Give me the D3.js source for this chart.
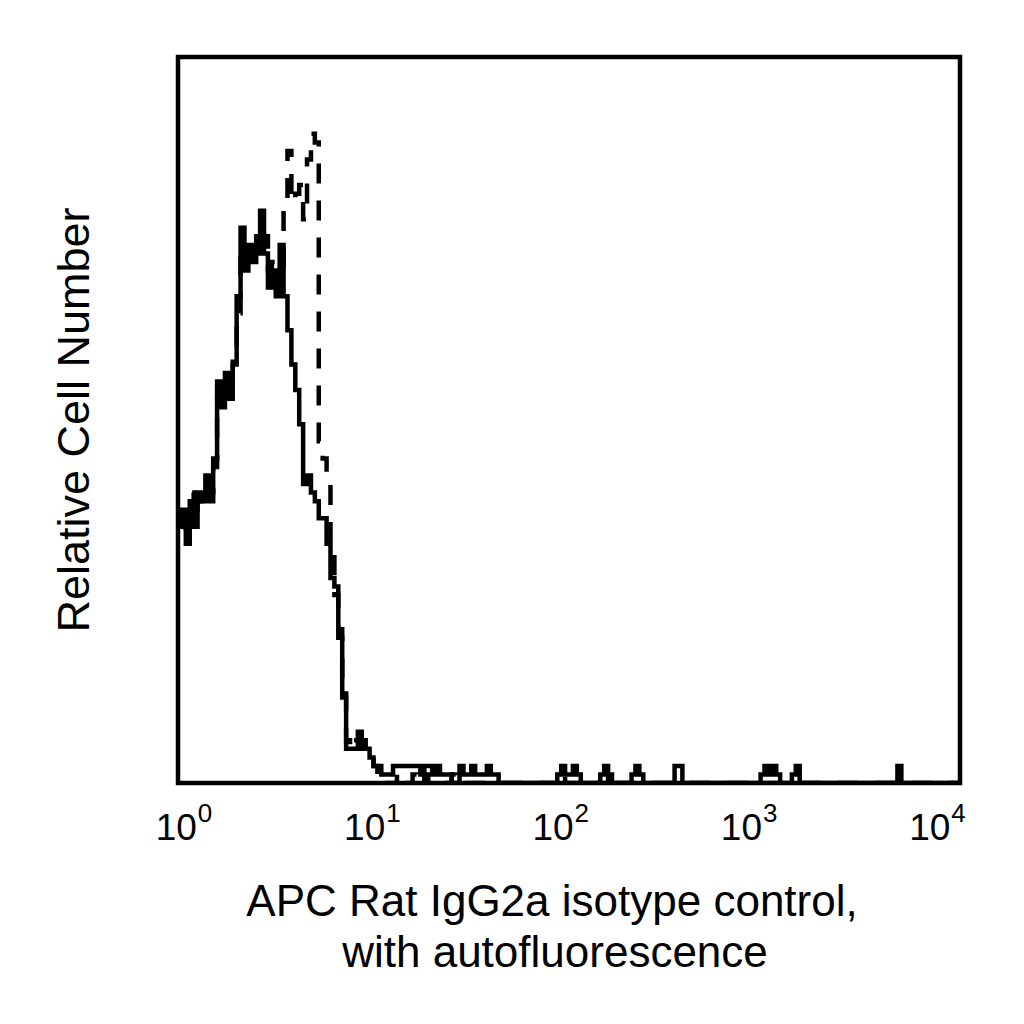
<!DOCTYPE html>
<html>
<head>
<meta charset="utf-8">
<script src="https://cdn.jsdelivr.net/npm/d3@7"></script>
<style>
  html, body { margin: 0; padding: 0; background: #fff; }
  svg { display: block; }
  text { font-family: "Liberation Sans", Arial, sans-serif; fill: #000; }
</style>
</head>
<body>
<svg id="chart" width="1024" height="1024"></svg>
<script>
// ---- data ----
const binWidthDecades = 0.02;          // histogram channel width (log10 units)
const totalBins = 200;                 // 4 decades
const tickValues = [1, 10, 100, 1000, 10000];
const tickExponents = ["0", "1", "2", "3", "4"];
const yTitle = "Relative Cell Number";
const xTitleLines = ["APC Rat IgG2a isotype control,", "with autofluorescence"];

// isotype control (solid) counts, bins 0..54
const isotypeCounts = [30, 32, 28, 33, 30, 34, 33, 36, 33, 38,
                       47, 44, 48, 45, 49, 57, 65, 60, 63, 61,
                       64, 67, 62, 58, 60, 57, 63, 57, 53, 49,
                       46, 42, 35, 36, 34, 33, 31, 31, 28, 24,
                       23, 17, 10, 4, 4, 4, 6, 5, 4, 3,
                       2, 2, 1, 1, 1];
// sparse tail of isotype control: [bin, count]
const isotypeTail = [[55, 2], [56, 2], [57, 2], [58, 2], [59, 2], [60, 2], [61, 2],
                     [62, 1], [63, 2], [64, 2], [65, 1], [66, 2], [67, 1], [68, 1], [69, 1],
                     [72, 2], [73, 1], [74, 1], [75, 2], [76, 1], [77, 1], [78, 1], [79, 2],
                     [80, 1], [81, 1],
                     [97, 1], [98, 2], [99, 1], [100, 1], [101, 2], [102, 1],
                     [108, 1], [109, 2], [110, 1],
                     [116, 1], [117, 2], [118, 1],
                     [127, 2], [128, 2],
                     [149, 1], [150, 2], [151, 1], [152, 2], [153, 1],
                     [157, 1], [158, 2],
                     [184, 2]];

// autofluorescence (dashed) counts, bins 0..52
const autoCounts = [31, 30, 29, 34, 31, 33, 35, 35, 34, 37,
                    45, 46, 47, 47, 50, 55, 63, 62, 62, 63,
                    62, 65, 64, 60, 61, 58, 59, 67, 74, 68,
                    69, 70, 66, 73, 76, 75, 40, 38, 35, 28,
                    22, 18, 11, 5, 4, 5, 5, 4, 3, 3,
                    2, 1, 1];
const autoTail = [[56, 1], [57, 1], [60, 1], [63, 1], [70, 1], [98, 1], [110, 1]];

// ---- layout ----
const svg = d3.select("#chart");
const x = d3.scaleLog().domain([1, 10000]).range([178, 960]);
const xLabel = d3.scaleLog().domain([1, 10000]).range([183.5, 937]);
const y = d3.scaleLinear().domain([0, 85]).range([783, 57]);

function buildBins(counts, tail) {
  const arr = new Array(totalBins).fill(0);
  counts.forEach((c, i) => { arr[i] = c; });
  tail.forEach(([b, c]) => { arr[b] = c; });
  const pts = arr.map((c, i) => [Math.pow(10, i * binWidthDecades), c]);
  pts.push([Math.pow(10, totalBins * binWidthDecades), arr[totalBins - 1]]);
  return pts;
}

const line = d3.line()
  .x(d => x(d[0]))
  .y(d => y(d[1]))
  .curve(d3.curveStepAfter);

svg.append("clipPath").attr("id", "plotclip")
  .append("rect").attr("x", 178).attr("y", 57).attr("width", 782).attr("height", 726);

const g = svg.append("g").attr("clip-path", "url(#plotclip)");

g.append("path")
  .datum(buildBins(autoCounts, autoTail))
  .attr("d", line)
  .attr("fill", "none")
  .attr("stroke", "#000")
  .attr("stroke-width", 4.5)
  .attr("stroke-dasharray", "20,17");

g.append("path")
  .datum(buildBins(isotypeCounts, isotypeTail))
  .attr("d", line)
  .attr("fill", "none")
  .attr("stroke", "#000")
  .attr("stroke-width", 4.5);

// frame
svg.append("rect")
  .attr("x", x(1)).attr("y", y(85))
  .attr("width", x(10000) - x(1)).attr("height", y(0) - y(85))
  .attr("fill", "none").attr("stroke", "#000").attr("stroke-width", 4.5);

// x axis tick labels
const axis = svg.append("g")
  .attr("transform", `translate(0,${y(0)})`)
  .call(d3.axisBottom(xLabel).tickValues(tickValues).tickSize(0).tickPadding(0).tickFormat(() => ""));
axis.select(".domain").remove();
axis.selectAll(".tick text").remove();
axis.selectAll(".tick").each(function(d, i) {
  const t = d3.select(this).append("text")
    .attr("y", 57)
    .attr("text-anchor", "middle")
    .style("font-size", "37px");
  t.append("tspan").text("10");
  t.append("tspan").attr("dy", -18).attr("dx", 1).style("font-size", "26px").text(tickExponents[i]);
});

// y title
svg.append("text")
  .attr("transform", `translate(89,420) rotate(-90)`)
  .attr("text-anchor", "middle")
  .style("font-size", "45px")
  .text(yTitle);

// x title
svg.append("text")
  .attr("x", 552).attr("y", 916)
  .attr("text-anchor", "middle")
  .style("font-size", "44px")
  .text(xTitleLines[0]);
svg.append("text")
  .attr("x", 555).attr("y", 967)
  .attr("text-anchor", "middle")
  .style("font-size", "44px")
  .text(xTitleLines[1]);
</script>
</body>
</html>
